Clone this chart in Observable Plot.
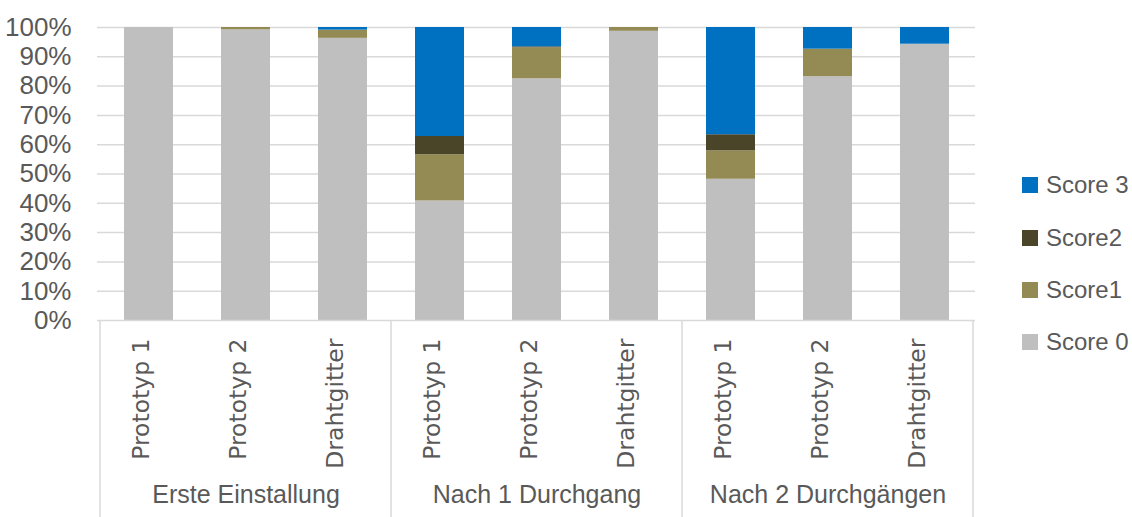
<!DOCTYPE html>
<html>
<head>
<meta charset="utf-8">
<script src="https://cdn.jsdelivr.net/npm/d3@7"></script>
<script src="https://cdn.jsdelivr.net/npm/@observablehq/plot@0.6"></script>
<style>
  html, body { margin: 0; padding: 0; background: #fff; }
  #wrap { position: relative; width: 1132px; height: 517px; overflow: hidden; }
  #legend { position: absolute; left: 1022px; top: 159px; font-family: "Liberation Sans", Arial, sans-serif; font-size: 24px; color: #595959; }
  #legend .item { display: flex; align-items: center; height: 52.4px; }
  #legend .sw { width: 16px; height: 16px; margin-right: 8px; }
</style>
</head>
<body>
<div id="wrap"></div>
<script>
const groups = ["Erste Einstallung", "Nach 1 Durchgang", "Nach 2 Durchgängen"];
const devices = ["Prototyp 1", "Prototyp 2", "Drahtgitter"];
const scores = ["Score 0", "Score1", "Score2", "Score 3"];
const colors = ["#BFBFBF", "#948A54", "#4A4429", "#0070C0"];
// values per bar, order: group x device
const score0 = [100, 99.2, 96.3, 40.8, 82.5, 98.7, 48.2, 83.2, 94.3];
const score1 = [0, 0.8, 2.8, 15.8, 10.6, 1.3, 9.7, 9.4, 0];
const score2 = [0, 0, 0, 6.2, 0.3, 0, 5.5, 0, 0];
const score3 = [0, 0, 0.9, 37.2, 6.6, 0, 36.6, 7.4, 5.7];
const yTicks = [0, 10, 20, 30, 40, 50, 60, 70, 80, 90, 100];

const series = [score0, score1, score2, score3];
const cats = [];
groups.forEach(g => devices.forEach(d => cats.push({group: g, device: d, key: g + "|" + d})));
const keys = cats.map(c => c.key);
const rows = [];
series.forEach((vals, si) => vals.forEach((v, i) => rows.push({key: keys[i], score: scores[si], value: v})));
const groupRows = groups.map((g, gi) => ({group: g, key: keys[gi * 3 + 1]}));

const plot = Plot.plot({
  width: 1132, height: 517,
  marginLeft: 97, marginRight: 157, marginTop: 27, marginBottom: 197,
  style: {fontFamily: "'Liberation Sans', Arial, sans-serif", fontSize: "24px", color: "#595959", background: "white", overflow: "visible"},
  x: {domain: keys, paddingInner: 0.5, paddingOuter: 0.25, axis: null},
  y: {domain: [0, 100], label: null, axis: null},
  color: {domain: scores, range: colors},
  marks: [
    Plot.gridY(yTicks.slice(1), {stroke: "#D9D9D9", strokeOpacity: 1, strokeWidth: 1.5}),
    Plot.axisY(yTicks, {tickSize: 0, tickPadding: 26, tickFormat: d => d + "%", label: null, fill: "#595959", fontSize: 26}),
    Plot.barY(rows, {x: "key", y: "value", fill: "score"}),
    Plot.ruleY([0], {stroke: "#D9D9D9", strokeWidth: 1.5}),
    Plot.text(cats, {x: "key", text: "device", frameAnchor: "bottom", dy: 18, rotate: -90, textAnchor: "end", fontFamily: "DejaVu Sans", fontSize: 23.5, fill: "#595959"}),
    Plot.text(groupRows, {x: "key", text: "group", frameAnchor: "bottom", dy: 182, fontSize: 25, fill: "#595959"})
  ]
});
document.getElementById("wrap").appendChild(plot);

// table separators below the plot
const xs = plot.scale("x");
const half = (xs.step - xs.bandwidth) / 2;
const bounds = [0, 3, 6].map(i => xs.apply(keys[i]) - half);
bounds.push(xs.apply(keys[8]) + xs.bandwidth + half);
const sel = d3.select(plot);
bounds.forEach(bx => {
  sel.append("line").attr("x1", bx).attr("x2", bx).attr("y1", 320).attr("y2", 517)
    .attr("stroke", "#D9D9D9").attr("stroke-width", 1.5);
});

// legend (top item first)
const leg = document.createElement("div");
leg.id = "legend";
[3, 2, 1, 0].forEach(i => {
  const it = document.createElement("div");
  it.className = "item";
  it.innerHTML = `<div class="sw" style="background:${colors[i]}"></div><span>${scores[i]}</span>`;
  leg.appendChild(it);
});
document.getElementById("wrap").appendChild(leg);
</script>
</body>
</html>
